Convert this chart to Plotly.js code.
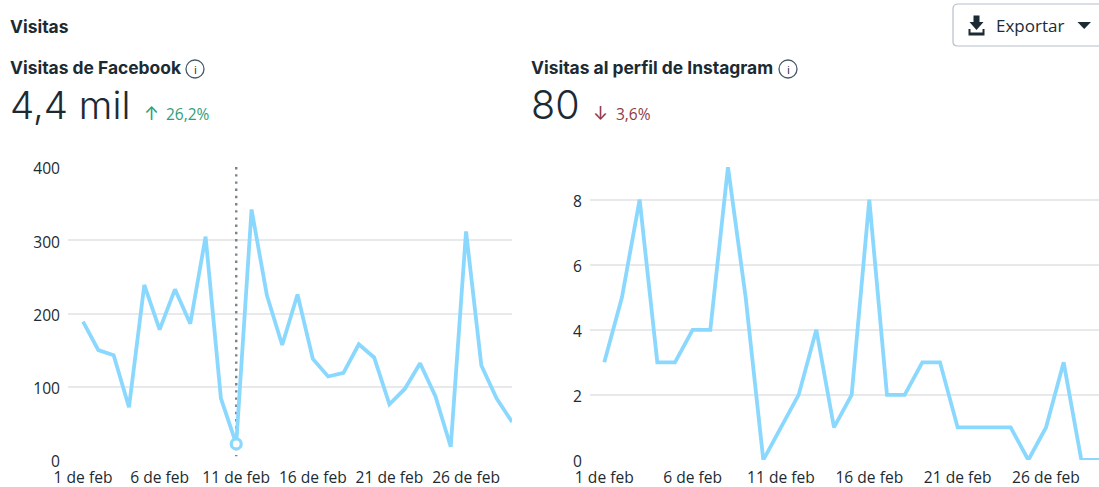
<!DOCTYPE html>
<html><head><meta charset="utf-8">
<script src="https://cdn.plot.ly/plotly-3.0.1.min.js"></script>
<style>html,body{margin:0;padding:0;background:#fff;overflow:hidden}#c{width:1099px;height:487px}</style>
</head><body><div id="c"></div>
<script>
const days = [1,2,3,4,5,6,7,8,9,10,11,12,13,14,15,16,17,18,19,20,21,22,23,24,25,26,27,28,29];
const facebookVisits = [189,150,143,72,239,178,233,186,305,84,22,342,225,157,226,138,114,119,158,140,76,97,132,87,18,312,129,84,52];
const instagramVisits = [3,5,8,3,3,4,4,9,5,0,1,2,4,1,2,8,2,2,3,3,1,1,1,1,0,1,3,0,0];
const tickDays = [1,6,11,16,21,26];
const tickLabels = ['1 de feb','6 de feb','11 de feb','16 de feb','21 de feb','26 de feb'];
const fbTicks = [0,100,200,300,400];
const igTicks = [0,2,4,6,8];
const hoverDay = [11];
const hoverValue = [22];

const W=1099,H=487;
const px=x=>x/W, py=y=>1-y/H;
const uiFont='Inter, "Noto Sans", sans-serif', tickFont='"Open Sans", "Noto Sans", sans-serif';
const dark='#1c2b33';
function txt(x,y,text,size,color,weight,family,anchor){
  return {xref:'paper',yref:'paper',x:px(x),y:py(y),text:text,showarrow:false,
    xanchor:anchor||'left',yanchor:'middle',align:'left',borderpad:0,borderwidth:0,
    font:{size:size,color:color,family:family||uiFont,weight:weight||400}};
}
const blue='#8bd8ff';
const traces=[
 {x:[hoverDay[0],hoverDay[0]],y:[400,5],xaxis:'x',yaxis:'y',mode:'lines',hoverinfo:'skip',
  line:{color:'#7a8389',width:2.4,dash:'2.4px,4.8px'},cliponaxis:false},
 {x:days,y:facebookVisits,xaxis:'x',yaxis:'y',mode:'lines',line:{color:blue,width:3.8},cliponaxis:false},
 {x:hoverDay,y:hoverValue,xaxis:'x',yaxis:'y',mode:'markers',cliponaxis:false,
  marker:{size:10,color:'#ffffff',line:{color:blue,width:3.2}}},
 {x:days,y:instagramVisits,xaxis:'x2',yaxis:'y2',mode:'lines',line:{color:blue,width:3.8},cliponaxis:false}
];
function xa(l,r,lo,hi,anchor){return {domain:[px(l),px(r)],range:[lo,hi],anchor:anchor,tickmode:'array',tickvals:tickDays,ticktext:tickLabels,
  showgrid:false,zeroline:false,showline:false,ticks:'',tickfont:{family:tickFont,size:15.6,color:dark},automargin:false,tickangle:0,ticklabelstandoff:6};}
function ya(t,hi,anchor,tv){return {domain:[py(460),py(t)],range:[0,hi],anchor:anchor,tickmode:'array',tickvals:tv,ticktext:tv.map(String),
  showgrid:true,gridcolor:'#e8e9eb',gridwidth:2,zeroline:false,showline:false,ticks:'',tickfont:{family:tickFont,size:15.6,color:dark},automargin:false,ticklabelstandoff:7,ticklabelshift:2};}
const layout={
 width:W,height:H,margin:{l:0,r:0,t:0,b:0},paper_bgcolor:'#fff',plot_bgcolor:'#fff',showlegend:false,
 xaxis:xa(68,512,1-15/15.3,29,'y'),
 yaxis:ya(167,400,'x',fbTicks),
 xaxis2:xa(590,1099,1-14.3/17.68,29,'y2'),
 yaxis2:ya(167,9,'x2',igTicks),
 annotations:[
  txt(10,27,'Visitas',17.4,dark,650),
  txt(10,68,'Visitas de Facebook',17.4,dark,650),
  txt(10,105,'4,4 mil',38.5,dark,300),
  txt(144,113,'↑',18,'#2f9e7b'),
  txt(166,114,'26,2%',15.5,'#2f9e7b',400,tickFont),
  txt(531,68,'Visitas al perfil de Instagram',17.4,dark,650),
  txt(531,105,'80',39.5,dark,300),
  txt(593,113,'↓',18,'#8f3a4a'),
  txt(616,114,'3,6%',15.5,'#8f3a4a',400,tickFont),
  txt(995.5,25.5,'Exportar',17,dark,400,tickFont),
  txt(195,69,'i',11.5,dark,400,tickFont,'center'),
  txt(788,69,'i',11.5,dark,400,tickFont,'center')
 ],
 shapes:[
  {type:'path',xref:'paper',yref:'paper',layer:'below',
   path:`M ${px(1120)} ${py(4)} L ${px(958)} ${py(4)} Q ${px(953)} ${py(4)} ${px(953)} ${py(9)} L ${px(953)} ${py(42)} Q ${px(953)} ${py(46)} ${px(958)} ${py(46)} L ${px(1120)} ${py(46)}`,
   line:{color:'#b4bfca',width:1.2}},
  {type:'circle',xref:'paper',yref:'paper',x0:px(186),x1:px(204),y0:py(60),y1:py(78),line:{color:'#465a69',width:1.3}},
  {type:'circle',xref:'paper',yref:'paper',x0:px(779),x1:px(797),y0:py(60),y1:py(78),line:{color:'#465a69',width:1.3}},
  {type:'path',xref:'paper',yref:'paper',fillcolor:dark,line:{width:0},
   path:`M ${px(973.5)} ${py(15.5)} L ${px(979.5)} ${py(15.5)} L ${px(979.5)} ${py(22)} L ${px(983.5)} ${py(22)} L ${px(976.5)} ${py(30)} L ${px(969.5)} ${py(22)} L ${px(973.5)} ${py(22)} Z`},
  {type:'path',xref:'paper',yref:'paper',fillcolor:dark,line:{width:0},
   path:`M ${px(968.5)} ${py(29)} L ${px(970.5)} ${py(29)} L ${px(970.5)} ${py(32.5)} L ${px(982.5)} ${py(32.5)} L ${px(982.5)} ${py(29)} L ${px(984.5)} ${py(29)} L ${px(984.5)} ${py(35.5)} L ${px(968.5)} ${py(35.5)} Z`},
  {type:'path',xref:'paper',yref:'paper',fillcolor:dark,line:{width:0},
   path:`M ${px(1077.5)} ${py(22)} L ${px(1091)} ${py(22)} L ${px(1084.2)} ${py(29)} Z`}
 ]
};
Plotly.newPlot('c',traces,layout,{displayModeBar:false,staticPlot:true});
</script></body></html>
